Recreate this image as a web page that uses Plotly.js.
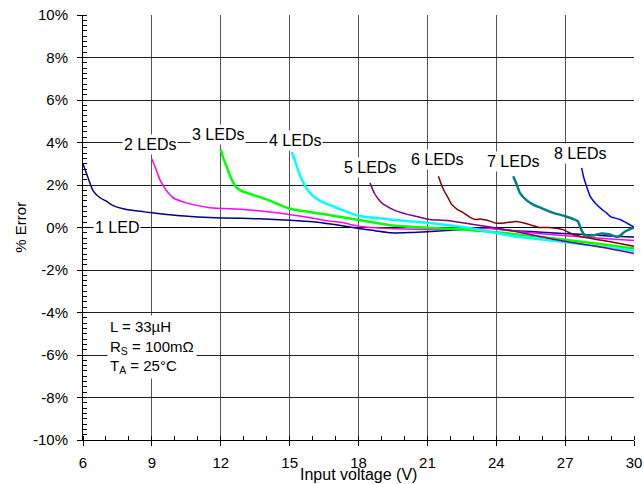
<!DOCTYPE html>
<html>
<head>
<meta charset="utf-8">
<script src="https://cdn.plot.ly/plotly-3.0.1.min.js"></script>
<style>html,body{margin:0;padding:0;background:#fff;}#chart{width:644px;height:484px;}</style>
</head>
<body>
<div id="chart"></div>
<script>
// Input voltage (V) and % error for each LED count
var x1 = [6, 6.2, 6.45, 6.74, 7.0, 7.32, 7.9, 8.5, 9.0, 10.1, 11.0, 12.0, 13.7, 15.0, 16.0, 16.6, 17.3, 18.0, 18.7, 19.4, 20.2, 21.0, 22.0, 22.6, 23.7, 24.7, 25.8, 26.9, 28.0, 29.1, 30];
var y1 = [3.0, 2.4, 1.71, 1.4, 1.25, 1.03, 0.85, 0.76, 0.69, 0.56, 0.5, 0.45, 0.41, 0.34, 0.27, 0.19, 0.08, -0.05, -0.15, -0.25, -0.24, -0.2, -0.13, -0.09, -0.02, -0.14, -0.21, -0.28, -0.34, -0.41, -0.45];

var x2 = [9.0, 9.1, 9.21, 9.35, 9.5, 9.7, 9.93, 10.5, 11.53, 12.98, 14.43, 15.89, 16.76, 17.34, 18.0, 19.37, 20.97, 22.56, 23.73, 24.73, 26.9, 28.5, 30];
var y2 = [3.23, 2.95, 2.65, 2.25, 1.96, 1.65, 1.40, 1.16, 0.93, 0.85, 0.69, 0.46, 0.3, 0.22, 0.06, -0.05, -0.09, -0.09, -0.05, -0.17, -0.38, -0.5, -0.61];

var x3 = [12.0, 12.1, 12.25, 12.4, 12.55, 12.7, 12.9, 13.13, 13.5, 14.0, 15.02, 15.8, 16.6, 17.3, 18.06, 19.37, 20.97, 22.56, 23.73, 24.73, 26.9, 28.5, 30];
var y3 = [3.67, 3.3, 2.89, 2.45, 2.1, 1.86, 1.72, 1.63, 1.5, 1.32, 0.88, 0.74, 0.61, 0.48, 0.34, 0.11, -0.01, -0.09, -0.2, -0.3, -0.56, -0.78, -0.99];

var x4 = [15.1, 15.25, 15.4, 15.6, 15.8, 16.03, 16.4, 16.76, 17.05, 18.0, 19.37, 20.97, 22.56, 23.73, 24.73, 26.9, 28.5, 30];
var y4 = [3.54, 3.1, 2.6, 2.1, 1.75, 1.47, 1.22, 1.05, 0.93, 0.55, 0.38, 0.22, 0.02, -0.2, -0.41, -0.67, -0.9, -1.11];

var x5 = [18.5, 18.7, 18.94, 19.15, 19.66, 20.39, 21.11, 21.84, 22.86, 23.73, 24.73, 25.8, 26.9, 28.37, 30];
var y5 = [2.1, 1.6, 1.24, 1.05, 0.77, 0.55, 0.38, 0.33, 0.17, 0.02, -0.17, -0.4, -0.64, -0.88, -1.22];

var x6 = [21.48, 21.6, 21.7, 21.9, 22.05, 22.3, 22.56, 22.86, 23.1, 23.3, 23.5, 23.73, 24.0, 24.4, 24.89, 25.4, 25.9, 26.3, 26.9, 27.4, 28.37, 29.2, 30];
var y6 = [2.41, 2.05, 1.79, 1.4, 1.1, 0.85, 0.7, 0.48, 0.38, 0.4, 0.36, 0.3, 0.2, 0.22, 0.28, 0.15, 0.0, 0.0, -0.1, -0.35, -0.56, -0.72, -0.88];

var x7 = [24.74, 24.9, 25.03, 25.3, 25.61, 26.0, 26.48, 27.0, 27.35, 27.55, 27.7, 27.85, 28.2, 28.6, 28.9, 29.3, 29.6, 30];
var y7 = [2.41, 2.0, 1.63, 1.3, 1.08, 0.9, 0.69, 0.53, 0.4, 0.3, -0.1, -0.35, -0.38, -0.28, -0.32, -0.44, -0.2, 0.0];

var x8 = [27.72, 27.8, 27.93, 28.1, 28.37, 28.6, 28.8, 29.0, 29.39, 29.7, 30];
var y8 = [2.81, 2.4, 1.95, 1.45, 1.08, 0.85, 0.69, 0.5, 0.38, 0.2, 0.02];

var seriesNames = ['1 LED', '2 LEDs', '3 LEDs', '4 LEDs', '5 LEDs', '6 LEDs', '7 LEDs', '8 LEDs'];
var seriesX = [x1, x2, x3, x4, x5, x6, x7, x8];
var seriesY = [y1, y2, y3, y4, y5, y6, y7, y8];
var colors = ['#000080', '#FF00FF', '#00FF00', '#00FFFF', '#800080', '#800000', '#008080', '#0000FF'];
var widths = [1.5, 1.5, 2.5, 2.5, 1.5, 1.5, 2.5, 1.5];

// y tick values and labels (hyphen minus as in the reference)
var yTickVals = [-10, -8, -6, -4, -2, 0, 2, 4, 6, 8, 10];
var yTickText = ['-10%', '-8%', '-6%', '-4%', '-2%', '0%', '2%', '4%', '6%', '8%', '10%'];
var xTickVals = [6, 9, 12, 15, 18, 21, 24, 27, 30];
var xTickText = ['6', '9', '12', '15', '18', '21', '24', '27', '30'];

// label positions (V, %)
var labelX = [7.5, 8.92, 11.9, 15.23, 18.5, 21.44, 24.73, 27.65];
var labelY = [0, 3.9, 4.38, 4.11, 2.81, 3.2, 3.12, 3.48];

var noteText = 'L = 33µH<br>R<sub>S</sub> = 100mΩ<br>T<sub>A</sub> = 25°C';

var FONT = 'Liberation Sans, Arial, sans-serif';

var traces = seriesX.map(function (xs, i) {
  return {
    x: xs, y: seriesY[i], name: seriesNames[i], type: 'scatter', mode: 'lines',
    line: { color: colors[i], width: widths[i], shape: 'spline', smoothing: 0.6 },
    hoverinfo: 'skip'
  };
});

var annotations = seriesNames.map(function (n, i) {
  return {
    x: labelX[i], y: labelY[i], xref: 'x', yref: 'y', text: n, showarrow: false,
    bgcolor: '#ffffff', borderpad: 1, font: { family: FONT, size: 16, color: '#000' }
  };
});
annotations.push({
  x: 9.0, y: -5.6, xref: 'x', yref: 'y', text: noteText, showarrow: false, align: 'left',
  bgcolor: '#ffffff', borderpad: 2, font: { family: FONT, size: 15, color: '#000' }
});
annotations.push({
  x: 0.5, y: -0.081, xref: 'paper', yref: 'paper', text: 'Input voltage (V)', showarrow: false,
  yanchor: 'middle', font: { family: FONT, size: 16, color: '#000' }
});
annotations.push({
  x: -0.114, y: 0.5, xref: 'paper', yref: 'paper', text: '% Error', showarrow: false,
  textangle: -90, xanchor: 'center', yanchor: 'middle', font: { family: FONT, size: 15, color: '#000' }
});

var layout = {
  width: 644, height: 484,
  margin: { l: 83, r: 10, t: 15, b: 44 },
  paper_bgcolor: '#fff', plot_bgcolor: '#fff',
  showlegend: false,
  font: { family: FONT, size: 15, color: '#000' },
  xaxis: {
    range: [6, 30], tickmode: 'array', tickvals: xTickVals, ticktext: xTickText,
    ticks: 'outside', ticklen: 5, tickcolor: '#000',
    showline: true, linecolor: '#000', linewidth: 1, showgrid: true, gridcolor: '#555', gridwidth: 1,
    zeroline: false, ticklabelstandoff: 4,
    minor: { dtick: 1, tick0: 6, ticks: 'inside', ticklen: 4, tickcolor: '#000', showgrid: false },
    fixedrange: true
  },
  yaxis: {
    range: [-10, 10], tickmode: 'array', tickvals: yTickVals, ticktext: yTickText,
    ticks: 'outside', ticklen: 5, tickcolor: '#000',
    showline: true, linecolor: '#000', linewidth: 1, showgrid: true, gridcolor: '#222', gridwidth: 1,
    zeroline: true, zerolinecolor: '#000', zerolinewidth: 1, ticklabelstandoff: 6,
    minor: { dtick: 0.25, tick0: 0, ticks: 'inside', ticklen: 4, tickcolor: '#000', showgrid: false },
    fixedrange: true
  },
  annotations: annotations
};

Plotly.newPlot('chart', traces, layout, { displayModeBar: false, staticPlot: true });
</script>
</body>
</html>
